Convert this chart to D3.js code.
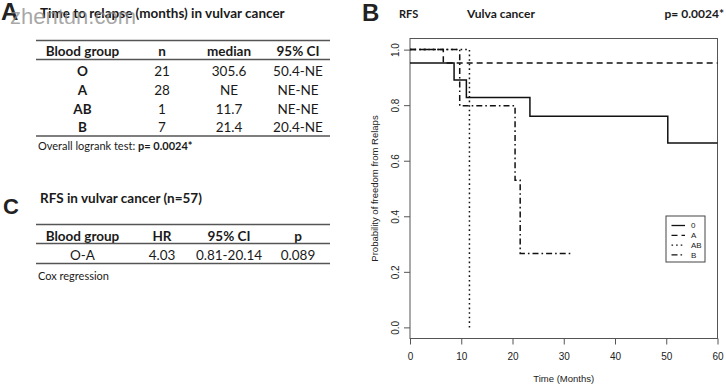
<!DOCTYPE html>
<html>
<head>
<meta charset="utf-8">
<script src="https://cdn.jsdelivr.net/npm/d3@7"></script>
<style>
  body { margin: 0; background: #fff; }
  svg { display: block; }
  .tbl { font-family: Lato, "Open Sans", sans-serif; fill: #1a1a1a; }
  .plt { font-family: "Liberation Sans", Arial, sans-serif; fill: #222; }
</style>
</head>
<body>
<div id="chart"></div>
<script>
// ---- data ----
const tableAHeader = ['Blood group', 'n', 'median', '95% CI'];
const bloodGroups = ['O', 'A', 'AB', 'B'];
const nValues = [21, 28, 1, 7];
const medians = ['305.6', 'NE', '11.7', '21.4'];
const medianCI = ['50.4-NE', 'NE-NE', 'NE-NE', '20.4-NE'];

const tableCHeader = ['Blood group', 'HR', '95% CI', 'p'];
const coxCompare = ['O-A'];
const coxHR = ['4.03'];
const coxCI = ['0.81-20.14'];
const coxP = ['0.089'];

// Kaplan-Meier steps
const kmGroups = ['0', 'A', 'AB', 'B'];
const timeO = [0, 8.6, 11.0, 23.4, 50.3, 60];
const survO = [0.952, 0.891, 0.828, 0.760, 0.664, 0.664];
const timeA = [0, 6.5, 60];
const survA = [1, 0.952, 0.952];
const timeAB = [0, 11.6];
const survAB = [1, 0];
const timeB = [0, 9.7, 20.5, 21.5, 31.5];
const survB = [1, 0.798, 0.53, 0.266, 0.266];

const xTicks = [0, 10, 20, 30, 40, 50, 60];
const yTicks = [0, 0.2, 0.4, 0.6, 0.8, 1.0];

const W = 726, H = 386;
const svg = d3.select('#chart').append('svg')
    .attr('width', W)
    .attr('height', H);

// ---- panel A table ----
svg.append('text').attr('class', 'plt').attr('x', 1).attr('y', 20)
    .attr('font-size', 24).attr('font-weight', 'bold').text('A');

const colX = [82.5, 162, 229, 298];

const tA = svg.append('g').attr('class', 'tbl');
tA.append('text').attr('x', 40).attr('y', 18).attr('font-size', 13.5)
    .attr('font-weight', 'bold').text('Time to relapse (months) in vulvar cancer');

function rule(g, y) {
    g.append('line').attr('x1', 36).attr('x2', 330).attr('y1', y).attr('y2', y)
        .attr('stroke', '#555').attr('stroke-width', 1.5);
}

rule(tA, 40.5);
tA.selectAll('.hdr').data(tableAHeader).join('text')
    .attr('class', 'hdr')
    .attr('x', (d, i) => colX[i]).attr('y', 56)
    .attr('text-anchor', 'middle').attr('font-size', 13.5).attr('font-weight', 'bold')
    .text(d => d);
rule(tA, 59.5);

const rowY = [75.5, 94.5, 113.5, 132];
bloodGroups.forEach((g, r) => {
    const cells = [g, nValues[r], medians[r], medianCI[r]];
    tA.selectAll('.r' + r).data(cells).join('text')
        .attr('x', (d, i) => colX[i]).attr('y', rowY[r])
        .attr('text-anchor', 'middle').attr('font-size', 13.5)
        .attr('font-weight', (d, i) => i === 0 ? 'bold' : 'normal')
        .text(d => d);
});
rule(tA, 136);

const foot = tA.append('text').attr('x', 38).attr('y', 150).attr('font-size', 11);
foot.append('tspan').text('Overall logrank test: ');
foot.append('tspan').attr('font-weight', 'bold').text('p= 0.0024*');

// watermark
svg.append('text').attr('x', 10).attr('y', 24)
    .attr('font-family', '"Liberation Sans", Arial, sans-serif')
    .attr('font-size', 22).attr('fill', '#8a8a8a').attr('fill-opacity', 0.75)
    .text('zhentun.com');

// ---- panel C table ----
svg.append('text').attr('class', 'plt').attr('x', 3).attr('y', 214)
    .attr('font-size', 22).attr('font-weight', 'bold').text('C');

const tC = svg.append('g').attr('class', 'tbl');
tC.append('text').attr('x', 40).attr('y', 203).attr('font-size', 13.5)
    .attr('font-weight', 'bold').text('RFS in vulvar cancer (n=57)');
rule(tC, 224.5);
tC.selectAll('.hdr').data(tableCHeader).join('text')
    .attr('class', 'hdr')
    .attr('x', (d, i) => colX[i]).attr('y', 240.5)
    .attr('text-anchor', 'middle').attr('font-size', 13.5).attr('font-weight', 'bold')
    .text(d => d);
rule(tC, 243.5);
coxCompare.forEach((c, r) => {
    const cells = [c, coxHR[r], coxCI[r], coxP[r]];
    tC.selectAll('.r' + r).data(cells).join('text')
        .attr('x', (d, i) => colX[i]).attr('y', 259.5)
        .attr('text-anchor', 'middle').attr('font-size', 13.5)
        .text(d => d);
});
rule(tC, 263.5);
tC.append('text').attr('x', 38).attr('y', 279.5).attr('font-size', 11).text('Cox regression');

// ---- panel B survival plot ----
svg.append('text').attr('class', 'plt').attr('x', 362).attr('y', 21)
    .attr('font-size', 24).attr('font-weight', 'bold').text('B');
const hdrB = svg.append('g').attr('class', 'tbl').attr('font-weight', 'bold').attr('font-size', 12);
hdrB.append('text').attr('x', 399).attr('y', 18).attr('font-size', 11).text('RFS');
hdrB.append('text').attr('x', 467).attr('y', 18).text('Vulva cancer');
hdrB.append('text').attr('x', 724).attr('y', 18).attr('text-anchor', 'end').text('p= 0.0024*');

const plot = {left: 410, right: 717.5, top: 38.5, bottom: 338.5};

const x = d3.scaleLinear().domain([0, 60]).range([plot.left, plot.right]);
// R style 4% padding on the y range
const y = d3.scaleLinear().domain([-0.04, 1.04]).range([plot.bottom, plot.top]);

const gB = svg.append('g').attr('class', 'plt');

gB.append('rect')
    .attr('x', plot.left).attr('y', plot.top)
    .attr('width', plot.right - plot.left).attr('height', plot.bottom - plot.top)
    .attr('fill', 'none').attr('stroke', '#555').attr('stroke-width', 1);

const xAxis = d3.axisBottom(x).tickValues(xTicks).tickSize(6).tickPadding(6)
    .tickFormat(d3.format('d'));
const xAxisGroup = gB.append('g')
    .attr('transform', 'translate(0,' + plot.bottom + ')')
    .call(xAxis);
xAxisGroup.select('.domain').remove();

const yAxis = d3.axisLeft(y).tickValues(yTicks).tickSize(6).tickPadding(6)
    .tickFormat(d3.format('.1f'));
const yAxisGroup = gB.append('g')
    .attr('transform', 'translate(' + plot.left + ',0)')
    .call(yAxis);
yAxisGroup.select('.domain').remove();
yAxisGroup.selectAll('text')
    .attr('x', 0).attr('y', 0).attr('dy', 0)
    .attr('text-anchor', 'middle')
    .attr('transform', 'translate(-11,0) rotate(-90)');

[xAxisGroup, yAxisGroup].forEach(g => {
    g.selectAll('line').attr('stroke', '#555');
    g.selectAll('text').attr('font-family', '"Liberation Sans", Arial, sans-serif')
        .attr('font-size', 10).attr('fill', '#222');
});
xAxisGroup.selectAll('text').attr('dy', '0.9em');

gB.append('text')
    .attr('x', (plot.left + plot.right) / 2).attr('y', 382)
    .attr('text-anchor', 'middle').attr('font-size', 9.5)
    .text('Time (Months)');
gB.append('text')
    .attr('transform', 'translate(378,' + (plot.top + plot.bottom) / 2 + ') rotate(-90)')
    .attr('text-anchor', 'middle').attr('font-size', 9.5)
    .text('Probability of freedom from Relaps');

const dashes = ['none', '6,4', '1.6,3', '6,3,1.6,3'];
const series = [
    {name: kmGroups[0], t: timeO, s: survO},
    {name: kmGroups[1], t: timeA, s: survA},
    {name: kmGroups[2], t: timeAB, s: survAB},
    {name: kmGroups[3], t: timeB, s: survB}
];

const line = d3.line()
    .x(d => x(d[0]))
    .y(d => y(d[1]))
    .curve(d3.curveStepAfter);

gB.selectAll('.km').data(series).join('path')
    .attr('class', 'km')
    .attr('d', d => line(d.t.map((t, i) => [t, d.s[i]])))
    .attr('fill', 'none')
    .attr('stroke', '#111')
    .attr('stroke-width', 1.5)
    .attr('stroke-dasharray', (d, i) => dashes[i]);

// legend
const leg = gB.append('g').attr('transform', 'translate(666,216)');
leg.append('rect').attr('width', 39).attr('height', 46)
    .attr('fill', '#fff').attr('stroke', '#444').attr('stroke-width', 1);
const legRow = leg.selectAll('.lr').data(series).join('g')
    .attr('class', 'lr')
    .attr('transform', (d, i) => 'translate(0,' + (9.5 + i * 9.8) + ')');
legRow.append('line')
    .attr('x1', 5.5).attr('x2', 19)
    .attr('stroke', '#111').attr('stroke-width', 1.3)
    .attr('stroke-dasharray', (d, i) => dashes[i]);
legRow.append('text')
    .attr('x', 25).attr('dy', '0.35em')
    .attr('font-size', 8)
    .text(d => d.name);
</script>
</body>
</html>
